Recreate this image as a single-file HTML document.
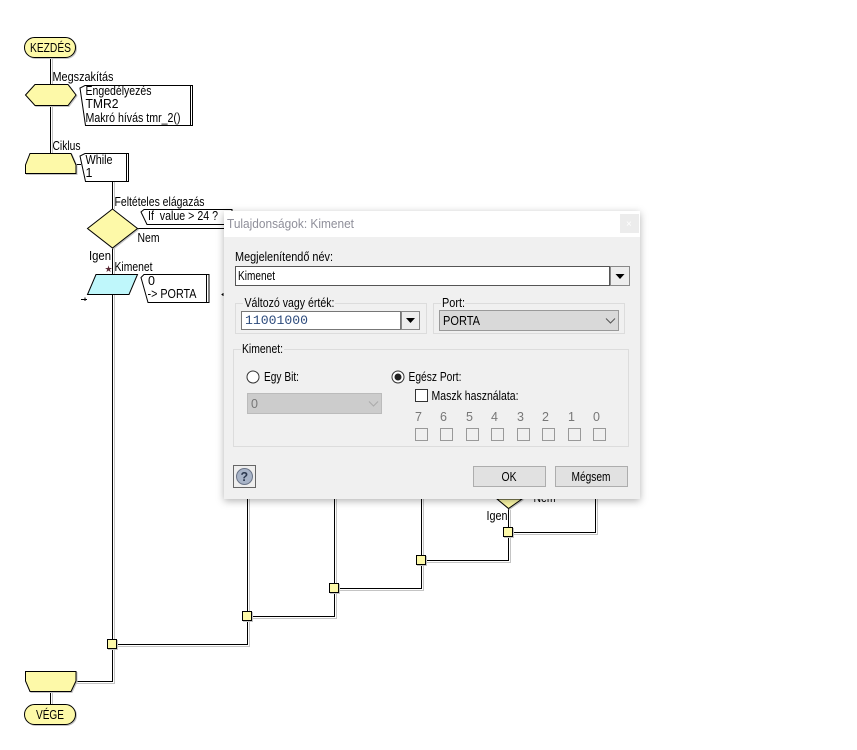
<!DOCTYPE html>
<html lang="hu"><head><meta charset="utf-8"><title>Kimenet</title>
<style>
html,body{margin:0;padding:0;background:#fff;width:857px;height:750px;overflow:hidden}
svg{display:block}
text{font-family:"Liberation Sans",sans-serif;font-size:12.500px;fill:#000}
.s{fill:#fdf9a8;stroke:#000;stroke-width:1;filter:drop-shadow(1px 1px 0 #c4c4c4)}
.l{fill:none;stroke:#000;stroke-width:1;shape-rendering:crispEdges}
.g{fill:none;stroke:#c4c4c4;stroke-width:1;shape-rendering:crispEdges}
.c{fill:#fff;stroke:#000;stroke-width:1}
.b{fill:none;stroke:#dcdcdc;stroke-width:1;shape-rendering:crispEdges}
.d{fill:#e1e1e1;stroke:#adadad;stroke-width:1;shape-rendering:crispEdges}
.cb{fill:#f0f0f0;stroke:#999;stroke-width:1;shape-rendering:crispEdges}
.dg{fill:#777}
</style></head><body>
<svg width="857" height="750" viewBox="0 0 857 750" xmlns="http://www.w3.org/2000/svg">
<defs><filter id="sh" x="-10%" y="-10%" width="120%" height="120%"><feDropShadow dx="0" dy="2" stdDeviation="4" flood-color="#000" flood-opacity=".3"/></filter></defs>

<!-- connector shadows -->
<path class="g" d="M52.500 57V85M52.500 105V153M114.500 181V209M114.500 248V274M114.500 294V683.500H76M52.500 692V704M112 646.500H249.500V499M247 618.500H336.500V499M334 590.500H423.500V499M421 562.500H510.500V510M508 534.500H597.500V499"/>
<!-- connectors -->
<path class="l" d="M50.500 57V85M50.500 105V153M76 164.500H81M112.500 181V209M137 228.500H224M112.500 248V274M112.500 294V681.500H76M50.500 692V704"/>
<path class="l" d="M112 644.500H247.500V499M247 616.500H334.500V499M334 588.500H421.500V499M421 560.500H508.500V505M508 532.500H595.500V499"/>

<!-- start -->
<rect class="s" x="24.500" y="37.500" width="51" height="20" rx="10"/>
<text x="30" y="52" textLength="41" lengthAdjust="spacingAndGlyphs">KEZDÉS</text>

<text x="52.500" y="81" textLength="61" lengthAdjust="spacingAndGlyphs">Megszakítás</text>
<polygon class="s" points="25.500,95 35,84.500 68,84.500 76,95 68,105.500 35,105.500"/>
<path class="c" d="M192.500 85.500H85L80 88L85.500 125.500H192.500Z"/>
<path class="l" d="M190.500 85V126"/>
<text x="85.500" y="95" textLength="66" lengthAdjust="spacingAndGlyphs">Engedélyezés</text>
<text x="85.500" y="108" textLength="33" lengthAdjust="spacingAndGlyphs">TMR2</text>
<text x="85.500" y="122" textLength="95" lengthAdjust="spacingAndGlyphs">Makró hívás tmr_2()</text>

<text x="52.500" y="150" textLength="28" lengthAdjust="spacingAndGlyphs">Ciklus</text>
<polygon class="s" points="30,153.500 71,153.500 76,165 76,173.500 25.500,173.500 25.500,165"/>
<path class="c" d="M128.500 153.500H85L80 156L85.500 181.500H128.500Z"/>
<path class="l" d="M126.500 153V182"/>
<text x="85.500" y="164" textLength="27" lengthAdjust="spacingAndGlyphs">While</text>
<text x="85.500" y="177">1</text>

<text x="114.500" y="206" textLength="90" lengthAdjust="spacingAndGlyphs">Feltételes elágazás</text>
<polygon class="s" points="112.500,209 137.500,228.500 112.500,248 87.500,228.500"/>
<path class="c" d="M232 209.500H144L141 212L147 224.500H232Z"/>
<text x="148" y="220" textLength="70" lengthAdjust="spacingAndGlyphs">If&#160; value &gt; 24 ?</text>
<text x="137.500" y="242" textLength="22" lengthAdjust="spacingAndGlyphs">Nem</text>
<text x="89" y="260" textLength="22" lengthAdjust="spacingAndGlyphs">Igen</text>
<text x="114.500" y="271" textLength="38" lengthAdjust="spacingAndGlyphs">Kimenet</text>
<text x="104.500" y="272" style="font-size:9px;fill:#5a2a36">★</text>
<polygon points="96,274.500 137.500,274.500 129,294.500 87.500,294.500" fill="#bff7fb" stroke="#000"/>
<path class="c" d="M209 274.500H144L141 277.500L148 302.500H209Z"/>
<path class="l" d="M206.500 274V303"/>
<text x="148" y="285">0</text>
<text x="147.500" y="298" textLength="49" lengthAdjust="spacingAndGlyphs">-&gt; PORTA</text>
<path class="l" d="M81 299.500H87M85 297.500V301"/>
<path class="l" d="M222 294V295M223 293V296"/>

<!-- hidden diamond tip -->
<polygon class="s" points="497,499 522,499 508.500,508.500"/>
<text x="533.500" y="502" textLength="22" lengthAdjust="spacingAndGlyphs">Nem</text>
<text x="486.500" y="520" textLength="21" lengthAdjust="spacingAndGlyphs">Igen</text>

<!-- junctions -->
<g shape-rendering="crispEdges">
<rect class="s" x="107.500" y="639.500" width="9" height="9"/>
<rect class="s" x="242.500" y="611.500" width="9" height="9"/>
<rect class="s" x="329.500" y="583.500" width="9" height="9"/>
<rect class="s" x="416.500" y="555.500" width="9" height="9"/>
<rect class="s" x="503.500" y="527.500" width="9" height="9"/>
</g>

<!-- end -->
<polygon class="s" points="25.500,671.500 76,671.500 76,681 71,691.500 30,691.500 25.500,681"/>
<rect class="s" x="24.500" y="704.500" width="51" height="20" rx="10"/>
<text x="36" y="719" textLength="28" lengthAdjust="spacingAndGlyphs">VÉGE</text>

<!-- dialog -->
<rect x="224" y="211" width="416" height="288" fill="#f0f0f0" filter="url(#sh)"/>
<rect x="224" y="211" width="416" height="26" fill="#fff"/>
<text x="227" y="228" style="fill:#8f8f9a" textLength="127" lengthAdjust="spacingAndGlyphs">Tulajdonságok: Kimenet</text>
<rect x="620" y="214" width="19" height="19" fill="#ececec"/>
<text x="626" y="227" style="font-size:10px;fill:#fff">×</text>

<text x="235" y="261" textLength="98" lengthAdjust="spacingAndGlyphs">Megjelenítendő név:</text>
<rect x="235.500" y="266.500" width="374" height="19" fill="#fff" stroke="#555" shape-rendering="crispEdges"/>
<text x="238" y="280" textLength="37" lengthAdjust="spacingAndGlyphs">Kimenet</text>
<rect x="610.500" y="266.500" width="19" height="19" fill="#ededed" stroke="#888" shape-rendering="crispEdges"/>
<polygon points="615.500,274 624.500,274 620,279" fill="#000"/>

<rect class="b" x="235.500" y="303.500" width="191" height="30"/>
<rect x="243" y="298" width="92" height="10" fill="#f0f0f0"/>
<text x="244.500" y="307" textLength="90" lengthAdjust="spacingAndGlyphs">Változó vagy érték:</text>
<rect x="241.500" y="311.500" width="159" height="18" fill="#fff" stroke="#777" shape-rendering="crispEdges"/>
<text x="245" y="324" textLength="63" lengthAdjust="spacingAndGlyphs" style="font-family:'Liberation Mono',monospace;fill:#2c4a7c;font-size:13px">11001000</text>
<rect x="401.500" y="311.500" width="18" height="18" fill="#ededed" stroke="#888" shape-rendering="crispEdges"/>
<polygon points="406,318 415,318 410.500,323" fill="#000"/>

<rect class="b" x="433.500" y="303.500" width="191" height="30"/>
<rect x="441" y="298" width="24" height="10" fill="#f0f0f0"/>
<text x="442" y="307" textLength="23" lengthAdjust="spacingAndGlyphs">Port:</text>
<rect x="439.500" y="310.500" width="179" height="20" fill="#d9d9d9" stroke="#999" shape-rendering="crispEdges"/>
<text x="443" y="325" textLength="37" lengthAdjust="spacingAndGlyphs">PORTA</text>
<path d="M606 318.500L610.500 323L615 318.500" fill="none" stroke="#555"/>

<rect class="b" x="233.500" y="349.500" width="395" height="97"/>
<rect x="241" y="343" width="43" height="10" fill="#f0f0f0"/>
<text x="242" y="353" textLength="41" lengthAdjust="spacingAndGlyphs">Kimenet:</text>

<circle cx="253" cy="377" r="6" fill="#fff" stroke="#333"/>
<text x="264" y="381" textLength="35" lengthAdjust="spacingAndGlyphs">Egy Bit:</text>
<circle cx="398" cy="377" r="6" fill="#fff" stroke="#333"/>
<circle cx="398" cy="377" r="3.500" fill="#222"/>
<text x="408.500" y="381" textLength="53" lengthAdjust="spacingAndGlyphs">Egész Port:</text>
<rect x="415.500" y="389.500" width="12" height="12" fill="#fff" stroke="#333" shape-rendering="crispEdges"/>
<text x="431.500" y="400" textLength="87" lengthAdjust="spacingAndGlyphs">Maszk használata:</text>
<rect x="247.500" y="393.500" width="134" height="20" fill="#ccc" stroke="#bbb" shape-rendering="crispEdges"/>
<text x="251" y="408" style="fill:#777">0</text>
<path d="M369 401.500L373.500 406L378 401.500" fill="none" stroke="#aaa"/>

<text class="dg" x="415" y="421">7</text><text class="dg" x="440" y="421">6</text><text class="dg" x="466" y="421">5</text><text class="dg" x="491" y="421">4</text><text class="dg" x="517" y="421">3</text><text class="dg" x="542" y="421">2</text><text class="dg" x="568" y="421">1</text><text class="dg" x="593" y="421">0</text>
<rect class="cb" x="415.500" y="428.500" width="12" height="12"/><rect class="cb" x="440.500" y="428.500" width="12" height="12"/><rect class="cb" x="466.500" y="428.500" width="12" height="12"/><rect class="cb" x="491.500" y="428.500" width="12" height="12"/><rect class="cb" x="517.500" y="428.500" width="12" height="12"/><rect class="cb" x="542.500" y="428.500" width="12" height="12"/><rect class="cb" x="568.500" y="428.500" width="12" height="12"/><rect class="cb" x="593.500" y="428.500" width="12" height="12"/>

<rect x="233.500" y="465.500" width="22" height="22" fill="#eee" stroke="#666" shape-rendering="crispEdges"/>
<circle cx="244.500" cy="476.500" r="8" fill="#a8b4c8" stroke="#6a7488"/>
<text x="240.500" y="481" style="font-weight:bold;fill:#2d3a50">?</text>

<rect class="d" x="473.500" y="466.500" width="72" height="20"/>
<text x="501.500" y="481" textLength="15" lengthAdjust="spacingAndGlyphs">OK</text>
<rect class="d" x="555.500" y="466.500" width="72" height="20"/>
<text x="571.500" y="481" textLength="39" lengthAdjust="spacingAndGlyphs">Mégsem</text>
</svg>
</body></html>
